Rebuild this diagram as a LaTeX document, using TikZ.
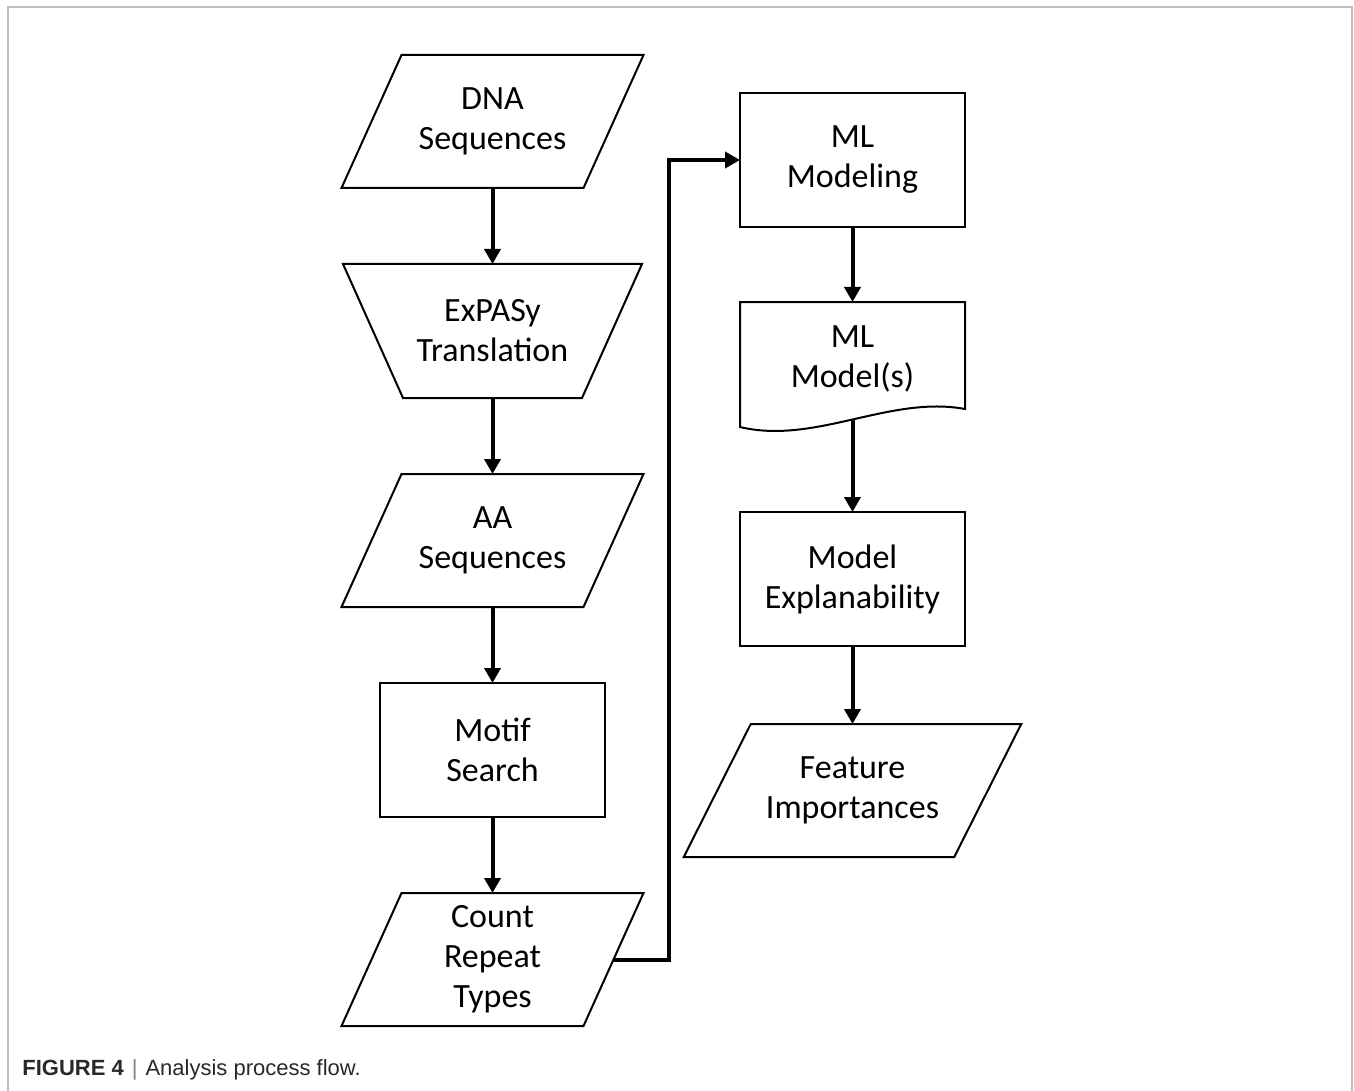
\documentclass[tikz,border=0pt]{standalone}
\usepackage{fontspec}
\setmainfont{Carlito}
\newfontfamily\captionfont{Liberation Sans}
\usetikzlibrary{arrows.meta}
\usetikzlibrary{positioning,calc}
\definecolor{framegray}{RGB}{190,190,190}
\definecolor{capgray}{RGB}{40,40,40}
\tikzstyle{base} = [rectangle, draw=black, line width=1pt, align=center, inner sep=0pt, outer sep=0pt, font=\fontsize{17}{20}\selectfont]
\tikzstyle{process} = [base, minimum width=112.5pt, minimum height=67pt]
\tikzstyle{dataio} = [base, draw=none, minimum width=121pt, minimum height=66.5pt]
\tikzstyle{manual} = [base, draw=none, minimum width=119.5pt, minimum height=67pt]
\tikzstyle{docshape} = [base, draw=none, minimum width=112.5pt, minimum height=56.5pt]
\tikzstyle{outline} = [line width=1pt, line join=miter]
\tikzstyle{flow} = [line width=2pt, -{Triangle[length=7.5pt,width=8pt]}]

\begin{document}
\begin{tikzpicture}[x=0.5pt, y=-0.5pt, node distance=38pt]
  \useasboundingbox (0,0) rectangle (1354,1091);
  \draw[framegray, line width=0.75pt] (8,1091) -- (8,7) -- (1352,7) -- (1352,1091);
  % left column
  \node (dna)    [dataio] at (492.5,121.5) {DNA\\Sequences};
  \node (expasy) [manual, below=of dna] {ExPASy\\Translation};
  \node (aa)     [dataio, below=of expasy] {AA\\Sequences};
  \node (motif)  [process, below=of aa] {Motif\\Search};
  \node (count)  [dataio, below=of motif] {Count\\Repeat\\Types};
  % right column
  \node (mlmod)   [process, right=63.25pt of dna, yshift=-19.25pt] {ML\\Modeling};
  \node (models)  [docshape, below=37.5pt of mlmod] {ML\\Model(s)};
  \node (explain) [process, below=48.5pt of models] {Model\\Explanability};
  \node (feature) [dataio, below=39pt of explain, minimum width=135.25pt] {Feature\\Importances};

  % slanted outlines
  \foreach \n/\s in {dna/30, aa/30, count/30, feature/33.5}
    \draw[outline] ($(\n.north west)+(\s,0)$) -- ($(\n.north east)+(\s,0)$)
      -- ($(\n.south east)+(-\s,0)$) -- ($(\n.south west)+(-\s,0)$) -- cycle;
  \draw[outline] ($(expasy.north west)+(-30,0)$) -- ($(expasy.north east)+(30,0)$)
    -- ($(expasy.south east)+(-30,0)$) -- ($(expasy.south west)+(30,0)$) -- cycle;
  % document outline with wavy bottom
  \draw[outline] ($(models.south east)+(0,-6)$) -- (models.north east) -- (models.north west)
    -- ($(models.south west)+(0,12)$)
    .. controls ($(models.south west)+(75,30)$) and ($(models.south east)+(-75,-20)$) .. ($(models.south east)+(0,-6)$)
    coordinate[pos=0.5] (models-wave) -- cycle;

  \draw[flow] (dna.south) -- (expasy.north);
  \draw[flow] (expasy.south) -- (aa.north);
  \draw[flow] (aa.south) -- (motif.north);
  \draw[flow] (motif.south) -- (count.north);
  \draw[flow] (count.east) -- ++(55,0) |- (mlmod.west);
  \draw[flow] (mlmod.south) -- (models.north);
  \draw[flow] (models-wave) -- (explain.north);
  \draw[flow] (explain.south) -- (feature.north);

  \node (caption) [anchor=base west, inner sep=0pt, text=capgray, font=\captionfont\fontsize{11}{13}\selectfont] at (22,1075)
    {\textbf{FIGURE 4}\hspace{4pt}{\color{gray}|}\hspace{4pt}Analysis process flow.};
\end{tikzpicture}
\end{document}
